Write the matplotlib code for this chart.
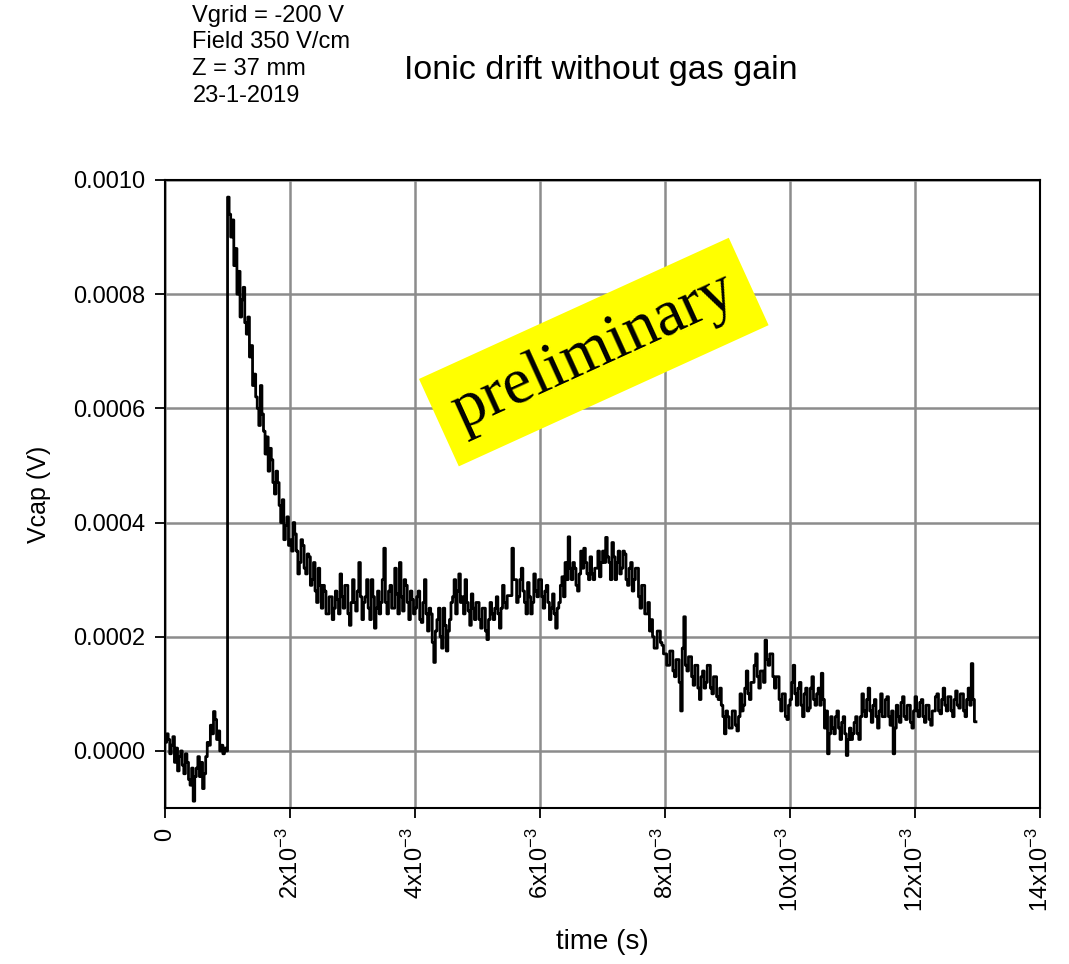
import numpy as np
import matplotlib.pyplot as plt

plt.rcParams['font.family'] = ['Liberation Sans', 'DejaVu Sans']

# sampling step of the trace (ms) and capacitor voltage readings (uV), one row per ms
dt_ms = 0.025
vcap_uV = [
    15, 30, 20, -5, 10, 25, -20, 5, -35, -10, 0, -25, -40, -5, -20, -50, -60, -30, -88, -45,
    -30, -10, -45, -20, -66, -40, -10, 15, 10, 45, 30, 69, 55, 20, 35, 0, 10, -5, 5, 0,
    970, 940, 900, 930, 850, 880, 800, 840, 760, 790, 812, 750, 730, 760, 690, 710, 640, 660, 620, 600,
    570, 640, 590, 560, 520, 550, 490, 530, 510, 470, 450, 490, 470, 430, 400, 440, 370, 395, 410, 360,
    370, 350, 400, 380, 350, 310, 330, 370, 360, 320, 310, 345, 340, 290, 300, 330, 280, 260, 320, 290,
    250, 290, 280, 240, 240, 270, 270, 230, 250, 280, 265, 240, 310, 270, 250, 290, 290, 240, 220, 260,
    300, 260, 245, 280, 330, 270, 230, 260, 270, 300, 250, 230, 300, 270, 215, 250, 280, 240, 260, 300,
    355, 260, 240, 280, 290, 250, 250, 320, 275, 240, 330, 270, 245, 300, 290, 260, 230, 280, 265, 240,
    250, 270, 280, 230, 225, 260, 300, 240, 210, 250, 240, 190, 155, 210, 230, 250, 200, 180, 250, 220,
    175, 210, 230, 260, 270, 300, 240, 280, 310, 260, 270, 240, 300, 260, 245, 220, 275, 250, 230, 260,
    260, 230, 215, 250, 250, 210, 195, 230, 260, 240, 230, 250, 270, 240, 215, 250, 290, 260, 250, 272,
    272, 272, 355, 300, 300, 260, 270, 300, 320, 280, 260, 240, 295, 270, 240, 260, 310, 280, 270, 300,
    300, 270, 250, 280, 290, 260, 230, 250, 275, 240, 215, 250, 260, 290, 305, 270, 330, 300, 375, 320,
    300, 330, 320, 290, 280, 310, 350, 320, 355, 330, 310, 300, 340, 310, 300, 320, 320, 350, 305, 330,
    350, 330, 374, 340, 330, 300, 365, 340, 300, 330, 350, 310, 320, 350, 345, 300, 290, 320, 330, 280,
    300, 320, 320, 270, 250, 290, 290, 240, 240, 260, 210, 230, 200, 180, 180, 210, 210, 190, 185, 170,
    170, 150, 150, 175, 175, 140, 130, 160, 160, 120, 70, 180, 235, 150, 140, 165, 165, 130, 115, 150,
    150, 110, 90, 130, 140, 110, 120, 150, 150, 110, 100, 130, 130, 95, 90, 110, 80, 60, 30, 70,
    60, 40, 40, 70, 70, 45, 35, 60, 100, 70, 80, 110, 140, 100, 90, 120, 120, 150, 170, 130,
    110, 140, 140, 120, 194, 160, 150, 170, 170, 130, 110, 130, 130, 90, 70, 100, 100, 60, 55, 80,
    90, 120, 150, 100, 80, 110, 120, 80, 60, 100, 110, 70, 75, 110, 130, 90, 80, 100, 110, 80,
    136, 90, 40, 70, -5, 30, 60, 40, 30, 60, 70, 40, 20, 50, 60, 30, -8, 20, 40, 20,
    30, 50, 60, 30, 20, 60, 100, 70, 60, 90, 110, 70, 50, 80, 90, 60, 40, 70, 100, 60,
    60, 90, 95, 60, 45, 70, -5, 40, 80, 60, 50, 85, 95, 60, 55, 80, 80, 50, 40, 70,
    95, 70, 60, 85, 90, 60, 50, 80, 80, 55, 45, 70, 70, 95, 100, 70, 65, 90, 110, 80,
    70, 95, 95, 70, 60, 90, 105, 80, 75, 100, 100, 70, 60, 90, 110, 80, 153, 90, 51, 51,
]

xticks_ms = [0, 2, 4, 6, 8, 10, 12, 14]
xtick_labels = ['0'] + [r'%dx10$^{\mathregular{-3}}$' % v for v in xticks_ms[1:]]
yticks = [0.0, 0.0002, 0.0004, 0.0006, 0.0008, 0.0010]

t = np.arange(len(vcap_uV)) * dt_ms * 1e-3
v = np.array(vcap_uV) * 1e-6

fig = plt.figure(figsize=(10.69, 9.64), dpi=100)
ax = fig.add_axes([0.1544, 0.1618, 0.8185, 0.6515])

ax.plot(t, v, color='black', lw=2.0, drawstyle='steps-post', zorder=3)

ax.set_xlim(0, 0.014)
ax.set_ylim(-0.0001, 0.0010)
ax.set_xticks([x * 1e-3 for x in xticks_ms])
ax.set_xticklabels(xtick_labels, rotation=90, fontsize=17)
ax.set_yticks(yticks)
ax.set_yticklabels(['%.4f' % y for y in yticks], fontsize=17)
ax.tick_params(direction='out', length=7, width=1.3, pad=7)
ax.grid(True, color='#8c8c8c', lw=1.8)
ax.set_axisbelow(True)
for s in ax.spines.values():
    s.set_linewidth(1.5)

ax.set_xlabel('time (s)', fontsize=20, labelpad=12)
ax.set_ylabel('Vcap (V)', fontsize=18, labelpad=16)

fig.text(0.18, 0.995, 'Vgrid = -200 V\nField 350 V/cm\nZ = 37 mm\n23-1-2019',
         fontsize=17, va='top', ha='left', linespacing=1.27)
fig.text(0.378, 0.927, 'Ionic drift without gas gain', fontsize=24.5, ha='left', va='center')

ax.text(0.49, 0.726, 'preliminary', transform=ax.transAxes, rotation=24.5,
        ha='center', va='center', fontsize=47, family='Liberation Serif',
        rotation_mode='anchor', zorder=5,
        bbox=dict(boxstyle='square,pad=0.28', fc='#ffff00', ec='none'))

fig.savefig('out.png', dpi=100)
